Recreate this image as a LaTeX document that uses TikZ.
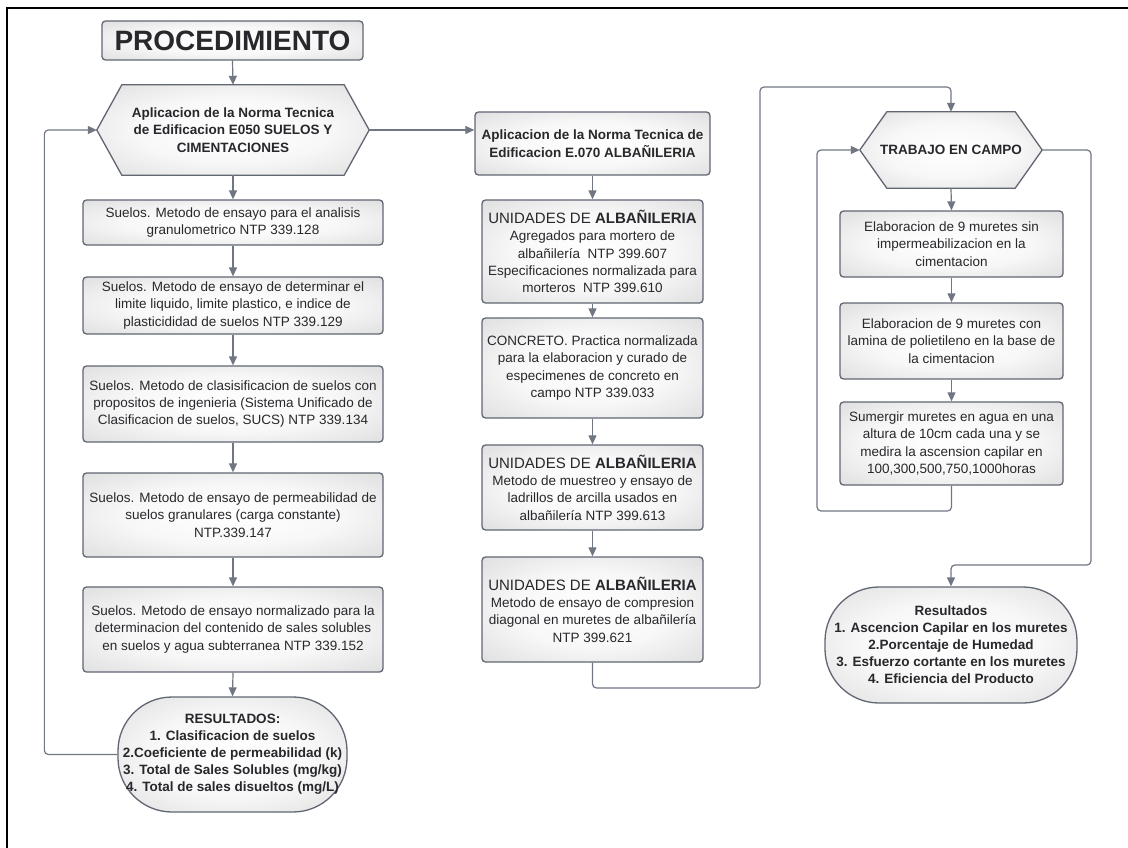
\documentclass[tikz,border=0pt]{standalone}
\usepackage{fontspec}
\setmainfont{Liberation Sans}
\usepackage{tikz}
\usetikzlibrary{arrows.meta, calc, backgrounds, positioning}
\definecolor{borde}{RGB}{96,102,114}
\definecolor{linea}{RGB}{112,118,130}
\definecolor{texto}{RGB}{40,40,44}
\pgfdeclareradialshading{relleno}{\pgfpoint{0bp}{0bp}}{color(0bp)=(white); color(18bp)=(white!97!black);
  color(50bp)=(white!80!black); color(72bp)=(white!76!black)}

\tikzset{
  caja/.style={draw=borde, line width=1.3pt, rounded corners=3.5pt, shading=relleno,
    text=texto, align=center, inner sep=0pt, font=\fontsize{13.5}{17.4}\selectfont},
  fin/.style={caja, rounded corners=54pt, font=\bfseries\fontsize{13.5}{17}\selectfont},
  hexa/.style={text=texto, align=center, inner sep=0pt, font=\bfseries\fontsize{13.5}{17.4}\selectfont},
  flecha/.style={draw=linea, line width=1.2pt, rounded corners=4pt, -{Triangle[length=9pt,width=8pt]}},
}
\newcommand{\unid}{{\fontsize{15}{17.4}\selectfont UNIDADES DE \textbf{ALBAÑILERIA}}}
\newcommand{\hexfondo}[2]{%
  \shadedraw[shading=relleno, draw=borde, line width=1.3pt, line join=round]
    (#1.west) -- ($(#1.north west)+(#2,0)$) -- ($(#1.north east)+(-#2,0)$) -- (#1.east)
    -- ($(#1.south east)+(-#2,0)$) -- ($(#1.south west)+(#2,0)$) -- cycle;}

\begin{document}
\begin{tikzpicture}[x=1pt, y=-1pt]
    \useasboundingbox (0,0) rectangle (1128,848);
    \draw[line width=2pt] (7,848) -- (7,8) -- (1128,8);

    % titulo
    \node[caja, minimum width=261, minimum height=39, font=\bfseries\fontsize{28}{30}\selectfont] (proc) at (232.5,40.5) {PROCEDIMIENTO};

    % columna suelos
    \node[hexa, minimum width=272, minimum height=90] (normaE) at (233,130) {Aplicacion de la Norma Tecnica\\de Edificacion E050 SUELOS Y\\CIMENTACIONES};
    \node[caja, minimum width=300, minimum height=45] (suelo1) at (233,222.5) {Suelos. Metodo de ensayo para el analisis\\granulometrico NTP 339.128};
    \node[caja, minimum width=300, minimum height=57] (suelo2) at (233,305.5) {Suelos. Metodo de ensayo de determinar el\\limite liquido, limite plastico, e indice de\\plasticididad de suelos NTP 339.129};
    \node[caja, minimum width=300, minimum height=76] (suelo3) at (233,404) {Suelos. Metodo de clasisificacion de suelos con\\propositos de ingenieria (Sistema Unificado de\\Clasificacion de suelos, SUCS) NTP 339.134};
    \node[caja, minimum width=300, minimum height=84] (suelo4) at (233,515) {Suelos. Metodo de ensayo de permeabilidad de\\suelos granulares (carga constante)\\NTP.339.147};
    \node[caja, minimum width=300, minimum height=85] (suelo5) at (233,629.5) {Suelos. Metodo de ensayo normalizado para la\\determinacion del contenido de sales solubles\\en suelos y agua subterranea NTP 339.152};
    \node[fin, minimum width=229, minimum height=115] (resSuelo) at (232.5,754.5) {RESULTADOS:\\1. Clasificacion de suelos\\2.Coeficiente de permeabilidad (k)\\3. Total de Sales Solubles (mg/kg)\\4. Total de sales disueltos (mg/L)};

    % columna albanileria
    \node[caja, minimum width=235, minimum height=63, font=\bfseries\fontsize{13.5}{17.4}\selectfont] (normaA) at (592.5,143.5) {Aplicacion de la Norma Tecnica de\\Edificacion E.070 ALBAÑILERIA};
    \node[caja, minimum width=221, minimum height=103] (alba1) at (592.5,251.5) {\unid\\Agregados para mortero de\\albañilería~~NTP 399.607\\Especificaciones normalizada para\\morteros~~NTP 399.610};
    \node[caja, minimum width=221, minimum height=100] (alba2) at (592.5,368) {CONCRETO. Practica normalizada\\para la elaboracion y curado de\\especimenes de concreto en\\campo NTP 339.033};
    \node[caja, minimum width=221, minimum height=85] (alba3) at (592.5,487.5) {\unid\\Metodo de muestreo y ensayo de\\ladrillos de arcilla usados en\\albañilería NTP 399.613};
    \node[caja, minimum width=221, minimum height=105] (alba4) at (592.5,609.5) {\unid\\Metodo de ensayo de compresion\\diagonal en muretes de albañilería\\NTP 399.621};

    % columna campo
    \node[hexa, minimum width=182, minimum height=76] (campo) at (951,150) {TRABAJO EN CAMPO};
    \node[caja, minimum width=223, minimum height=66] (mur1) at (951.5,244) {Elaboracion de 9 muretes sin\\impermeabilizacion en la\\cimentacion};
    \node[caja, minimum width=223, minimum height=76] (mur2) at (951.5,341) {Elaboracion de 9 muretes con\\lamina de polietileno en la base de\\la cimentacion};
    \node[caja, minimum width=223, minimum height=83] (mur3) at (951.5,443.5) {Sumergir muretes en agua en una\\altura de 10cm cada una y se\\medira la ascension capilar en\\100,300,500,750,1000horas};
    \node[fin, minimum width=252, minimum height=116] (resCampo) at (951,645) {Resultados\\1. Ascencion Capilar en los muretes\\2.Porcentaje de Humedad\\3. Esfuerzo cortante en los muretes\\4. Eficiencia del Producto};

    \begin{scope}[on background layer]
        \hexfondo{normaE}{25}
        \hexfondo{campo}{27}
    \end{scope}

    % flechas verticales
    \foreach \a/\b in {proc/normaE, normaE/suelo1, suelo1/suelo2, suelo2/suelo3, suelo3/suelo4, suelo4/suelo5, suelo5/resSuelo,
        normaA/alba1, alba1/alba2, alba2/alba3, alba3/alba4, campo/mur1, mur1/mur2, mur2/mur3} {
        \draw[flecha] (\a.south) -- (\b.north);
    }
    \draw[flecha] (normaE.east) -- (normaE.east -| normaA.west);
    \draw[flecha] (resSuelo.west) -- ++(-73,0) |- (normaE.west);

    % enlaces entre columnas
    \coordinate (c1) at (760,688);
    \coordinate (c2) at (760,87);
    \draw[flecha] (alba4.south) |- (c1) -- (c2) -| (campo.north);
    \coordinate (loopR) at (817,511);
    \draw[flecha] (mur3.south) |- (loopR) |- (campo.west);
    \coordinate (loopS) at (1091,565);
    \draw[flecha] (campo.east) -| (loopS) -| (resCampo.north);
\end{tikzpicture}
\end{document}
